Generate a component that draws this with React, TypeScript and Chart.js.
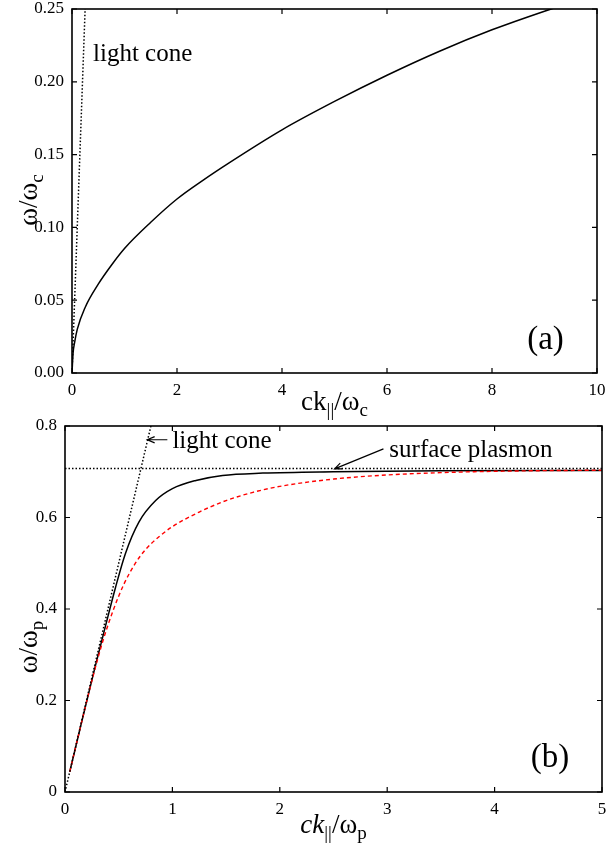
import React, { useEffect, useRef } from "react";
import { Chart, registerables } from "chart.js";

Chart.register(...registerables);

const FONT = "'Liberation Serif', 'Times New Roman', serif";

// ---- Panel (a) data ----
const topCurveK = [0, 0.02, 0.05, 0.1, 0.25, 0.5, 0.75, 1.0, 1.5, 2.0, 2.5, 3.0, 4.0, 5.0, 6.0, 7.0, 8.0, 9.0, 9.3];
const topCurveW = [0, 0.0135, 0.021, 0.03, 0.045, 0.061, 0.074, 0.0855, 0.1035, 0.1195, 0.1325, 0.1445, 0.167, 0.1865, 0.2045, 0.221, 0.2357, 0.2485, 0.252];
const topLightK = [0, 0.26];
const topLightW = [0, 0.26];
const topXTicks = [0, 2, 4, 6, 8, 10];
const topYTicks = [0, 0.05, 0.1, 0.15, 0.2, 0.25];

// ---- Panel (b) data ----
const botBlackK = [0.044, 0.15, 0.281, 0.375, 0.469, 0.562, 0.688, 0.844, 1.0, 1.219, 1.467, 1.843, 2.5, 3.5, 5.0];
const botBlackW = [0.044, 0.148, 0.274, 0.361, 0.446, 0.521, 0.59, 0.637, 0.663, 0.681, 0.692, 0.697, 0.7, 0.702, 0.703];
const botRedK = [0.044, 0.15, 0.25, 0.35, 0.45, 0.55, 0.65, 0.75, 0.875, 1.0, 1.25, 1.5, 1.75, 2.0, 2.5, 3.0, 3.5, 4.0, 5.0];
const botRedW = [0.044, 0.148, 0.243, 0.328, 0.398, 0.455, 0.498, 0.53, 0.558, 0.58, 0.612, 0.637, 0.655, 0.668, 0.684, 0.693, 0.698, 0.701, 0.7035];
const botLightK = [0, 0.82];
const botLightW = [0, 0.82];
const botPlasmonK = [0, 5];
const botPlasmonW = [0.7071, 0.7071];
const botXTicks = [0, 1, 2, 3, 4, 5];
const botYTicks = [0, 0.2, 0.4, 0.6, 0.8];

const pts = (xs: number[], ys: number[]) => xs.map((x, i) => ({ x, y: ys[i] }));

type Part = { t: string; sub?: boolean; italic?: boolean };
type Label = { x: number; y: number; text: string; size: number };
type Arrow = { x1: number; y1: number; x2: number; y2: number };
type Deco = {
  xTicks: number[];
  yTicks: number[];
  labels: Label[];
  arrows: Arrow[];
  xTitle: Part[];
  yTitle: Part[];
  xTitleDrop: number;
  yTitleShift: number;
  yTitleX: number;
};

function partFont(p: Part) {
  return `${p.italic ? "italic " : ""}${p.sub ? 19 : 27}px ${FONT}`;
}
function drawParts(ctx: CanvasRenderingContext2D, parts: Part[], x: number, base: number) {
  let cx = x;
  for (const p of parts) {
    ctx.font = partFont(p);
    ctx.fillText(p.t, cx, base + (p.sub ? 6 : 0));
    cx += ctx.measureText(p.t).width;
  }
}
function partsWidth(ctx: CanvasRenderingContext2D, parts: Part[]) {
  let w = 0;
  for (const p of parts) {
    ctx.font = partFont(p);
    w += ctx.measureText(p.t).width;
  }
  return w;
}

const decoPlugin = {
  id: "deco",
  afterDraw(chart: any, _args: any, opts: Deco) {
    const { ctx, chartArea: a } = chart;
    const xs = chart.scales.x;
    const ys = chart.scales.y;
    ctx.save();
    ctx.strokeStyle = "#000";
    ctx.fillStyle = "#000";
    ctx.lineWidth = 1.6;
    ctx.setLineDash([]);
    ctx.strokeRect(a.left, a.top, a.right - a.left, a.bottom - a.top);
    ctx.lineWidth = 1.2;
    const tl = 5;
    ctx.beginPath();
    for (const v of opts.xTicks) {
      const px = xs.getPixelForValue(v);
      ctx.moveTo(px, a.bottom);
      ctx.lineTo(px, a.bottom - tl);
      ctx.moveTo(px, a.top);
      ctx.lineTo(px, a.top + tl);
    }
    for (const v of opts.yTicks) {
      const py = ys.getPixelForValue(v);
      ctx.moveTo(a.left, py);
      ctx.lineTo(a.left + tl, py);
      ctx.moveTo(a.right, py);
      ctx.lineTo(a.right - tl, py);
    }
    ctx.stroke();

    ctx.textBaseline = "alphabetic";
    ctx.textAlign = "left";
    for (const l of opts.labels) {
      ctx.font = `${l.size}px ${FONT}`;
      ctx.fillText(l.text, xs.getPixelForValue(l.x), ys.getPixelForValue(l.y));
    }
    ctx.lineWidth = 1.2;
    for (const ar of opts.arrows) {
      const x1 = xs.getPixelForValue(ar.x1);
      const y1 = ys.getPixelForValue(ar.y1);
      const x2 = xs.getPixelForValue(ar.x2);
      const y2 = ys.getPixelForValue(ar.y2);
      const ang = Math.atan2(y2 - y1, x2 - x1);
      const h = 8;
      ctx.beginPath();
      ctx.moveTo(x1, y1);
      ctx.lineTo(x2, y2);
      ctx.moveTo(x2 - h * Math.cos(ang - 0.4), y2 - h * Math.sin(ang - 0.4));
      ctx.lineTo(x2, y2);
      ctx.lineTo(x2 - h * Math.cos(ang + 0.4), y2 - h * Math.sin(ang + 0.4));
      ctx.stroke();
    }

    // axis titles
    const wx = partsWidth(ctx, opts.xTitle);
    drawParts(ctx, opts.xTitle, (a.left + a.right) / 2 - wx / 2, a.bottom + opts.xTitleDrop);
    const wy = partsWidth(ctx, opts.yTitle);
    ctx.translate(opts.yTitleX, (a.top + a.bottom) / 2 + opts.yTitleShift);
    ctx.rotate(-Math.PI / 2);
    drawParts(ctx, opts.yTitle, -wy / 2, 0);
    ctx.restore();
  },
};

function makeChart(
  canvas: HTMLCanvasElement,
  datasets: any[],
  xMax: number,
  yMax: number,
  xTicks: number[],
  yTicks: number[],
  yFmt: (v: number) => string,
  yWidth: number,
  xHeight: number,
  padding: any,
  deco: Deco
) {
  return new Chart(canvas, {
    type: "line",
    data: { datasets },
    plugins: [decoPlugin as any],
    options: {
      animation: false,
      responsive: false,
      devicePixelRatio: 1,
      layout: { padding },
      plugins: { legend: { display: false }, tooltip: { enabled: false }, deco } as any,
      elements: { point: { radius: 0 } },
      scales: {
        x: {
          type: "linear",
          min: 0,
          max: xMax,
          afterBuildTicks: (s: any) => {
            s.ticks = xTicks.map((v) => ({ value: v }));
          },
          afterFit: (s: any) => {
            s.height = xHeight;
            s.paddingLeft = 0;
            s.paddingRight = 0;
          },
          grid: { display: false, drawTicks: false },
          border: { display: false },
          ticks: {
            padding: 7,
            color: "#000",
            font: { family: FONT, size: 17 },
            maxRotation: 0,
            callback: (v: any) => String(v),
          },
        },
        y: {
          type: "linear",
          min: 0,
          max: yMax,
          afterBuildTicks: (s: any) => {
            s.ticks = yTicks.map((v) => ({ value: v }));
          },
          afterFit: (s: any) => {
            s.width = yWidth;
            s.paddingTop = 0;
            s.paddingBottom = 0;
          },
          grid: { display: false, drawTicks: false },
          border: { display: false },
          ticks: {
            padding: 8,
            color: "#000",
            font: { family: FONT, size: 17 },
            callback: (v: any) => yFmt(Number(v)),
          },
        },
      },
    } as any,
  });
}

const dotted = { borderColor: "#000", borderWidth: 1.5, borderDash: [1.5, 2], fill: false, tension: 0 };

export default function App() {
  const refA = useRef<HTMLCanvasElement>(null);
  const refB = useRef<HTMLCanvasElement>(null);

  useEffect(() => {
    const a = makeChart(
      refA.current!,
      [
        { data: pts(topLightK, topLightW), ...dotted },
        { data: pts(topCurveK, topCurveW), borderColor: "#000", borderWidth: 1.5, cubicInterpolationMode: "monotone", fill: false },
      ],
      10,
      0.25,
      topXTicks,
      topYTicks,
      (v) => v.toFixed(2),
      72,
      47,
      { top: 9, right: 12, left: 0, bottom: 0 },
      {
        xTicks: topXTicks,
        yTicks: topYTicks,
        labels: [
          { x: 0.4, y: 0.214, text: "light cone", size: 25 },
          { x: 8.67, y: 0.0163, text: "(a)", size: 33 },
        ],
        arrows: [],
        xTitle: [{ t: "ck" }, { t: "||", sub: true }, { t: "/ω" }, { t: "c", sub: true }],
        yTitle: [{ t: "ω/ω" }, { t: "c", sub: true }],
        xTitleDrop: 37,
        yTitleShift: 9,
        yTitleX: 37,
      }
    );
    const b = makeChart(
      refB.current!,
      [
        { data: pts(botLightK, botLightW), ...dotted },
        { data: pts(botPlasmonK, botPlasmonW), ...dotted },
        { data: pts(botRedK, botRedW), borderColor: "#ff0000", borderWidth: 1.4, borderDash: [4, 3], cubicInterpolationMode: "monotone", fill: false },
        { data: pts(botBlackK, botBlackW), borderColor: "#000", borderWidth: 1.5, cubicInterpolationMode: "monotone", fill: false },
      ],
      5,
      0.8,
      botXTicks,
      botYTicks,
      (v) => (v === 0 ? "0" : v.toFixed(1)),
      65,
      51,
      { top: 21, right: 7, left: 0, bottom: 0 },
      {
        xTicks: botXTicks,
        yTicks: botYTicks,
        labels: [
          { x: 1.0, y: 0.753, text: "light cone", size: 25 },
          { x: 3.02, y: 0.7316, text: "surface plasmon", size: 25 },
          { x: 4.337, y: 0.0556, text: "(b)", size: 33 },
        ],
        arrows: [
          { x1: 0.953, y1: 0.77, x2: 0.766, y2: 0.77 },
          { x1: 2.965, y1: 0.75, x2: 2.51, y2: 0.7063 },
        ],
        xTitle: [{ t: "ck", italic: true }, { t: "||", sub: true }, { t: "/ω" }, { t: "p", sub: true }],
        yTitle: [{ t: "ω/ω" }, { t: "p", sub: true }],
        xTitleDrop: 41,
        yTitleShift: 38,
        yTitleX: 37,
      }
    );
    return () => {
      a.destroy();
      b.destroy();
    };
  }, []);

  return (
    <div style={{ position: "absolute", left: 0, top: 0, width: 609, height: 843, background: "#fff" }}>
      <canvas ref={refA} width={609} height={420} style={{ position: "absolute", left: 0, top: 0, width: 609, height: 420 }} />
      <canvas ref={refB} width={609} height={438} style={{ position: "absolute", left: 0, top: 405, width: 609, height: 438 }} />
    </div>
  );
}
